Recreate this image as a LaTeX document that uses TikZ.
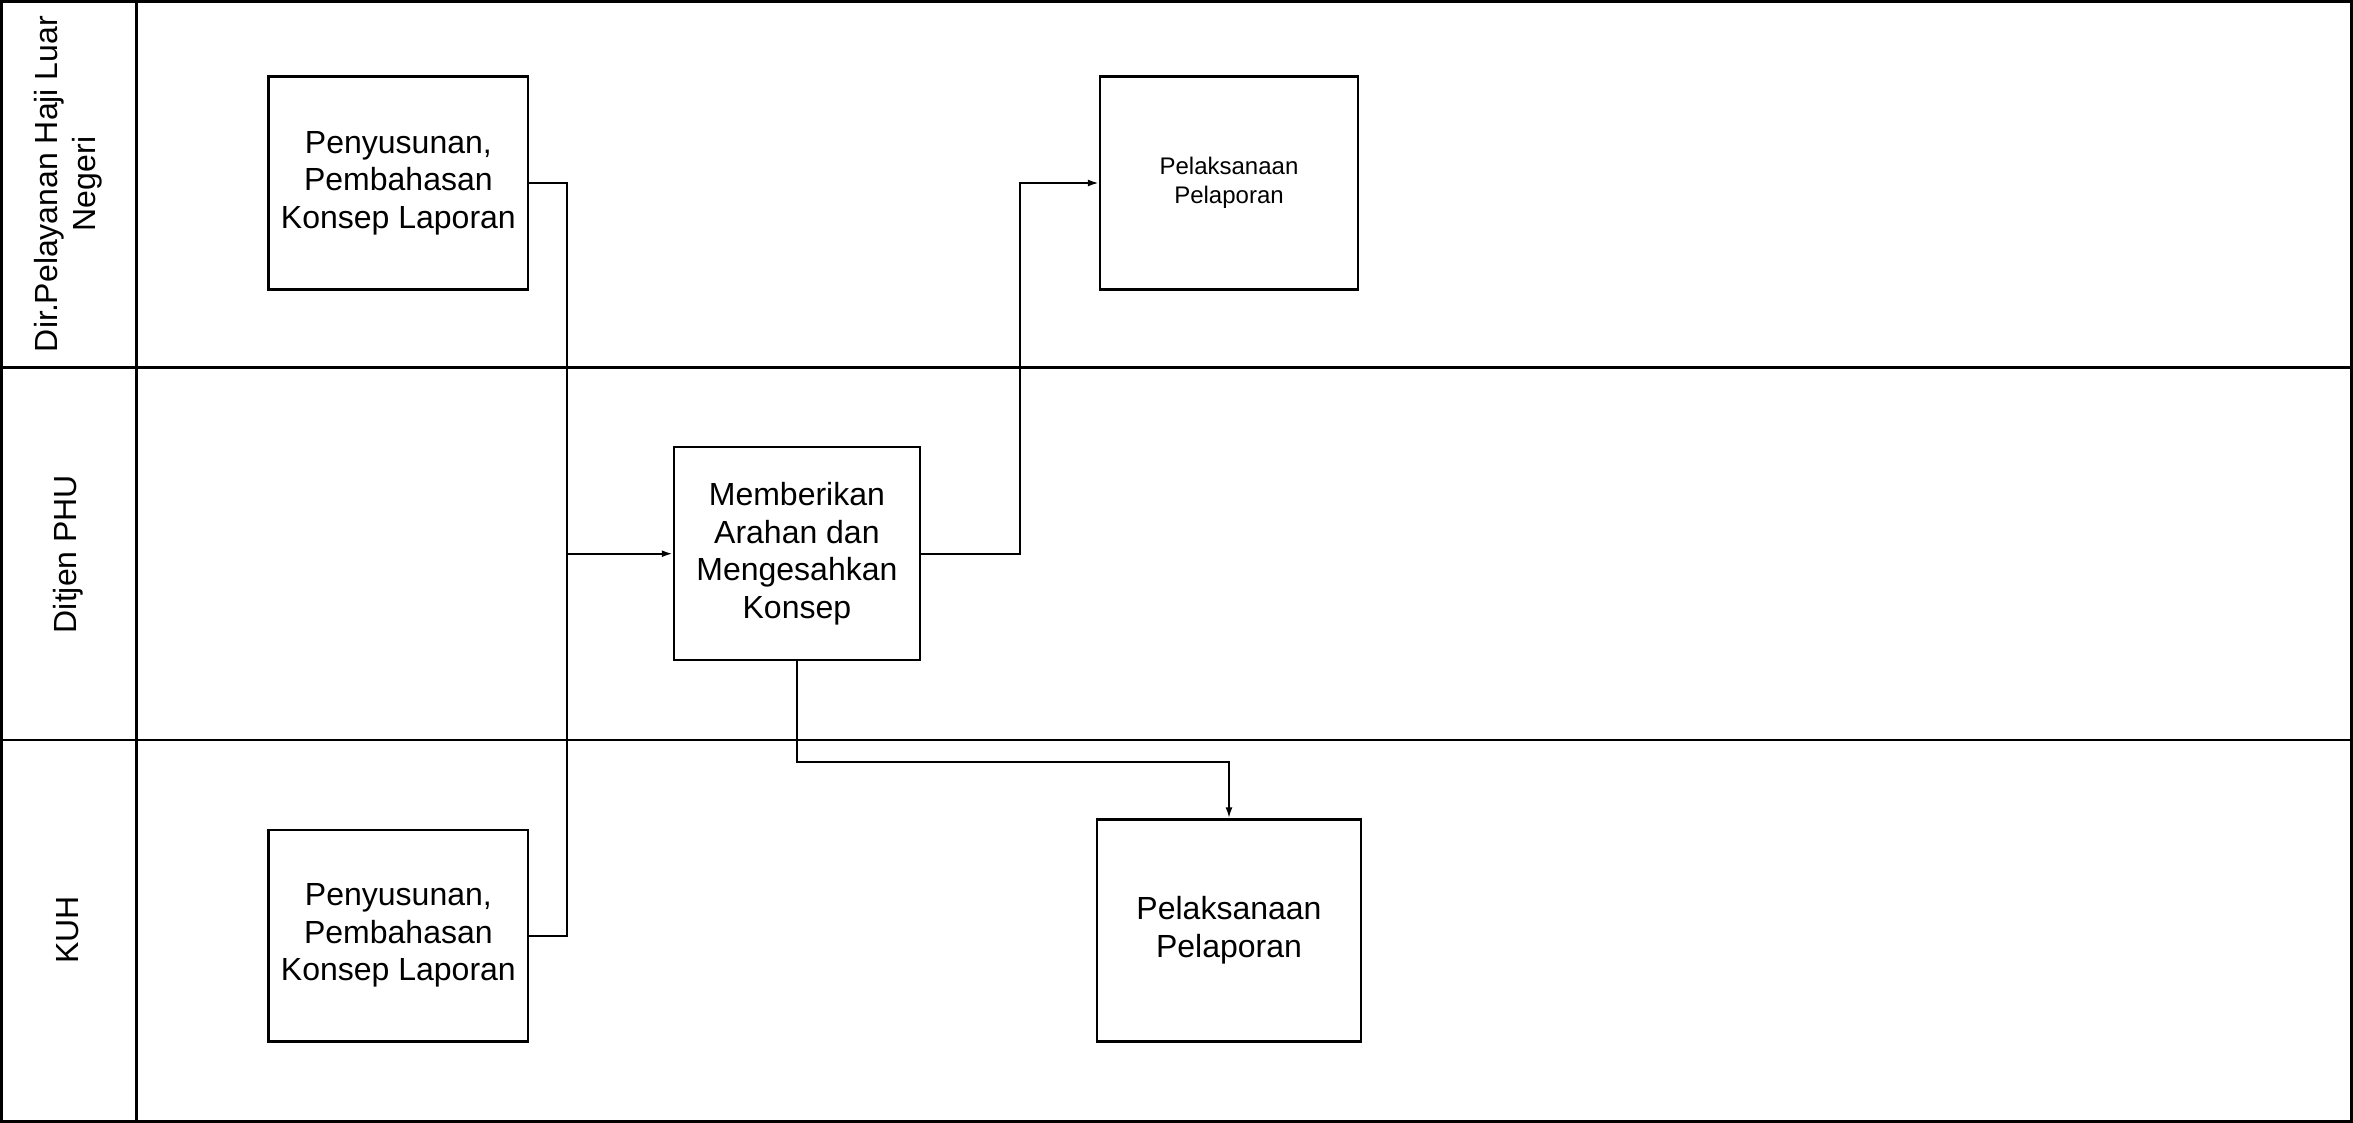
\documentclass[tikz,border=0pt]{standalone}
\usepackage{fontspec}
\setmainfont{Liberation Sans}
\usetikzlibrary{arrows.meta}
\tikzset{
  lane/.style={draw, line width=2.6pt},
  procbox/.style={draw, line width=2.3pt, inner sep=0pt, align=center, font=\fontsize{32}{37.5}\selectfont},
  smallbox/.style={procbox, font=\fontsize{24}{29}\selectfont},
  lanelabel/.style={rotate=90, align=center, font=\fontsize{32}{38}\selectfont},
  conn/.style={line width=2pt},
  arr/.style={conn, -{Latex[length=11pt,width=7pt]}}
}
\begin{document}
\begin{tikzpicture}[x=1pt,y=-1pt]
\useasboundingbox (0,0) rectangle (2353,1123);
% lanes
\draw[lane] (1.3,1.3) rectangle (2351.7,1121.7);
\draw[lane] (136.6,1.3) -- (136.6,1121.7);
\draw[lane] (1.3,367.7) -- (2351.7,367.7);
\draw[lane] (1.3,739.8) -- (2351.7,739.8);
\node[lanelabel] (L1) at (68,184) {Dir.Pelayanan Haji Luar\\Negeri};
\node[lanelabel] (L2) at (68,554) {Ditjen PHU};
\node[lanelabel] (L3) at (68,930) {KUH};
% boxes
\node[procbox, minimum width=259.6pt, minimum height=213pt] (A) at (398.4,183) {Penyusunan,\\Pembahasan\\Konsep Laporan};
\node[smallbox, minimum width=258pt, minimum height=213pt] (P1) at (1229,183) {Pelaksanaan\\Pelaporan};
\node[procbox, minimum width=246pt, minimum height=213pt] (M) at (796.9,553.7) {Memberikan\\Arahan dan\\Mengesahkan\\Konsep};
\node[procbox, minimum width=264pt, minimum height=222pt] (P2) at (1229,930.4) {Pelaksanaan\\Pelaporan};
\node[procbox, minimum width=259.6pt, minimum height=211.6pt] (B) at (398.4,935.6) {Penyusunan,\\Pembahasan\\Konsep Laporan};
% junction coordinates
\coordinate (j) at (567,553.7);
\coordinate (k) at (1020,553.7);
\coordinate (m) at (796.9,762);
% connectors
\draw[arr] (A.east) -| (j) -- (M.west);
\draw[conn] (B.east) -| (j);
\draw[arr] (M.east) -- (k) |- (P1.west);
\draw[arr] (M.south) -- (m) -| (P2.north);
\end{tikzpicture}
\end{document}
